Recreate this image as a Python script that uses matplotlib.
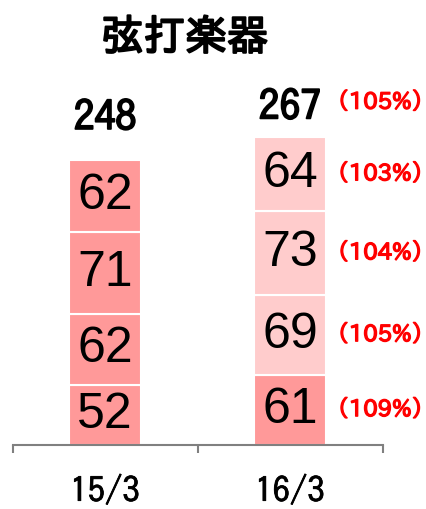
import matplotlib
matplotlib.use('Agg')
import matplotlib.pyplot as plt
import matplotlib.patheffects as pe
import numpy as np

# data (bottom segment first)
categories = ['15/3', '16/3']
seg1 = [52, 61]
seg2 = [62, 69]
seg3 = [71, 73]
seg4 = [62, 64]
segments = [seg1, seg2, seg3, seg4]
totals = [248, 267]
ratio_labels = ['（109%）', '（105%）', '（104%）', '（103%）']
total_ratio = '（105%）'
title = '弦打楽器'

dark = '#FF9999'
light = '#FFCCCC'
seg_colors = [[dark, dark], [dark, light], [dark, light], [dark, light]]

plt.rcParams['font.family'] = ['IPAPGothic', 'Noto Sans CJK JP', 'DejaVu Sans']

def bold(c, w=1.2):
    return [pe.withStroke(linewidth=w, foreground=c)]

fig = plt.figure(figsize=(4.26, 5.09), dpi=100)
ax = fig.add_axes([12.5 / 426, 64 / 509, 370 / 426, 440 / 509])

x = np.arange(len(categories))
bottom = np.zeros(len(categories))
for i, seg in enumerate(segments):
    ax.bar(x, seg, width=0.39, bottom=bottom, color=seg_colors[i],
           edgecolor='white', linewidth=1.5)
    for j, v in enumerate(seg):
        ax.text(x[j], bottom[j] + v / 2, str(v), ha='center', va='center',
                fontsize=36, family='Liberation Sans', color='black')
    # growth ratio for the newer year
    ax.text(x[1] + 0.25, bottom[1] + seg[1] / 2, ratio_labels[i], ha='left',
            va='center', fontsize=16.5, color='red', path_effects=bold('red', 1.0))
    bottom += seg

offsets = [21, 12]
for j, t in enumerate(totals):
    ax.annotate(str(t), (x[j], bottom[j]), xytext=(0, offsets[j]),
                textcoords='offset points', ha='center', va='baseline',
                fontsize=30, family='IPAGothic', path_effects=bold('black', 1.3))
ax.annotate(total_ratio, (x[1] + 0.25, bottom[1]), xytext=(0, 25),
            textcoords='offset points', ha='left', va='center',
            fontsize=16.5, color='red', path_effects=bold('red', 1.0))

ax.set_xlim(-0.5, 1.5)
ax.set_ylim(0, 440 / 1.153)
for s in ['top', 'right', 'left']:
    ax.spines[s].set_visible(False)
ax.spines['bottom'].set_color('#808080')
ax.spines['bottom'].set_linewidth(1.5)
ax.set_yticks([])
ax.set_xticks([-0.5, 0.5, 1.5])
ax.set_xticklabels([])
ax.tick_params(axis='x', direction='out', length=6, width=1.5, color='#808080')

for j, c in enumerate(categories):
    ax.text(x[j], -45 / 440, c, transform=ax.get_xaxis_transform(),
            ha='center', va='center', fontsize=25, family='IPAGothic',
            path_effects=bold('black', 0.6))

fig.text(185 / 426, 1 - 35 / 509, title, ha='center', va='center',
         fontsize=30, family='IPAGothic', path_effects=bold('black', 1.5))

fig.savefig('out.png', dpi=100)
